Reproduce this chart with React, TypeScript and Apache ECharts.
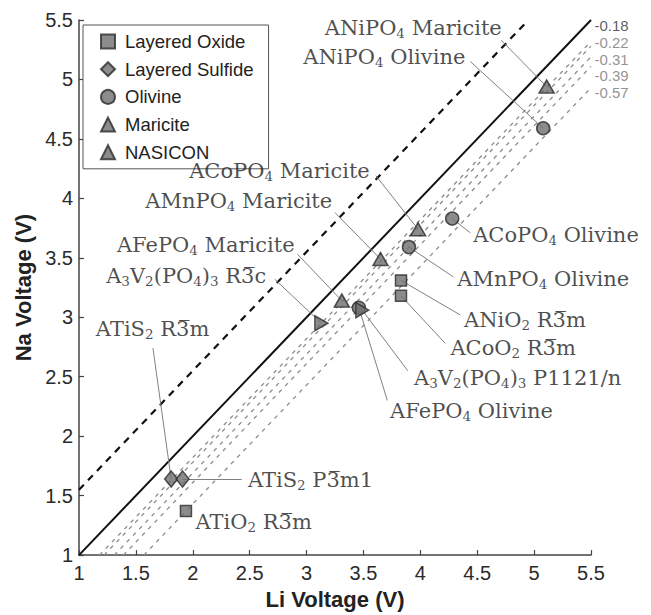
import React, { useEffect, useRef } from 'react';
import * as echarts from 'echarts';

// ---- data (Li voltage, Na voltage) ----
const layeredOxideNames = ['ANiO2 R-3m', 'ACoO2 R-3m', 'ATiO2 R-3m'];
const layeredOxideLi = [3.83, 3.83, 1.94];
const layeredOxideNa = [3.31, 3.18, 1.37];

const layeredSulfideNames = ['ATiS2 R-3m', 'ATiS2 P-3m1'];
const layeredSulfideLi = [1.81, 1.91];
const layeredSulfideNa = [1.64, 1.64];

const olivineNames = ['ANiPO4 Olivine', 'ACoPO4 Olivine', 'AMnPO4 Olivine', 'AFePO4 Olivine'];
const olivineLi = [5.08, 4.28, 3.9, 3.46];
const olivineNa = [4.59, 3.83, 3.59, 3.08];

const mariciteNames = ['ANiPO4 Maricite', 'ACoPO4 Maricite', 'AMnPO4 Maricite', 'AFePO4 Maricite'];
const mariciteLi = [5.11, 3.98, 3.65, 3.31];
const mariciteNa = [4.94, 3.74, 3.49, 3.14];

const nasiconNames = ['A3V2(PO4)3 R-3c', 'A3V2(PO4)3 P1121/n'];
const nasiconLi = [3.13, 3.49];
const nasiconNa = [2.95, 3.06];

// reference lines: Na = Li + offset
const upperOffset = 0.55;
const grayOffsets = [-0.18, -0.22, -0.31, -0.39, -0.57];
const offsetLabels = ['-0.18', '-0.22', '-0.31', '-0.39', '-0.57'];

const axisMin = 1;
const axisMax = 5.5;
const axisStep = 0.5;

// ---- layout of annotations (positions in data units) ----
const offsetLabelY = [5.45, 5.31, 5.17, 5.03, 4.89];
const offsetLabelColor = ['#333', '#777', '#777', '#777', '#777'];

const BAR3 = '3\u0305';

type Ann = { cls: string; i: number; text: string; at: [number, number]; side: 'left' | 'right'; from: [number, number] | null };
const annotations: Ann[] = [
  { cls: 'Maricite', i: 0, text: 'ANiPO{s|4} Maricite', at: [4.72, 5.43], side: 'left', from: [4.71, 5.33] },
  { cls: 'Olivine', i: 0, text: 'ANiPO{s|4} Olivine', at: [4.4, 5.19], side: 'left', from: [4.44, 5.15] },
  { cls: 'Maricite', i: 1, text: 'ACoPO{s|4} Maricite', at: [3.56, 4.23], side: 'left', from: [3.61, 4.19] },
  { cls: 'Maricite', i: 2, text: 'AMnPO{s|4} Maricite', at: [3.23, 3.98], side: 'left', from: [3.25, 3.88] },
  { cls: 'Maricite', i: 3, text: 'AFePO{s|4} Maricite', at: [2.9, 3.61], side: 'left', from: [2.92, 3.53] },
  { cls: 'NASICON', i: 0, text: `A{s|3}V{s|2}(PO{s|4}){s|3} R${BAR3}c`, at: [2.65, 3.35], side: 'left', from: [2.72, 3.32] },
  { cls: 'Layered Sulfide', i: 0, text: `ATiS{s|2} R${BAR3}m`, at: [2.15, 2.9], side: 'left', from: [1.65, 2.74] },
  { cls: 'Olivine', i: 1, text: 'ACoPO{s|4} Olivine', at: [4.46, 3.69], side: 'right', from: [4.44, 3.71] },
  { cls: 'Olivine', i: 2, text: 'AMnPO{s|4} Olivine', at: [4.32, 3.32], side: 'right', from: [4.29, 3.34] },
  { cls: 'Layered Oxide', i: 0, text: `ANiO{s|2} R${BAR3}m`, at: [4.38, 2.98], side: 'right', from: [4.35, 3.02] },
  { cls: 'Layered Oxide', i: 1, text: `ACoO{s|2} R${BAR3}m`, at: [4.26, 2.74], side: 'right', from: [4.22, 2.78] },
  { cls: 'NASICON', i: 1, text: 'A{s|3}V{s|2}(PO{s|4}){s|3} P1121/n', at: [3.94, 2.49], side: 'right', from: [3.89, 2.55] },
  { cls: 'Olivine', i: 3, text: 'AFePO{s|4} Olivine', at: [3.73, 2.21], side: 'right', from: [3.71, 2.3] },
  { cls: 'Layered Sulfide', i: 1, text: `ATiS{s|2} P${BAR3}m1`, at: [2.48, 1.63], side: 'right', from: [2.43, 1.64] },
  { cls: 'Layered Oxide', i: 2, text: `ATiO{s|2} R${BAR3}m`, at: [2.02, 1.28], side: 'right', from: null },
];

const classes = [
  { name: 'Layered Oxide', names: layeredOxideNames, li: layeredOxideLi, na: layeredOxideNa, symbol: 'rect', size: 11, rotate: 0 },
  { name: 'Layered Sulfide', names: layeredSulfideNames, li: layeredSulfideLi, na: layeredSulfideNa, symbol: 'diamond', size: [13, 16], rotate: 0 },
  { name: 'Olivine', names: olivineNames, li: olivineLi, na: olivineNa, symbol: 'circle', size: 13, rotate: 0 },
  { name: 'Maricite', names: mariciteNames, li: mariciteLi, na: mariciteNa, symbol: 'triangle', size: [15, 13], rotate: 0 },
  { name: 'NASICON', names: nasiconNames, li: nasiconLi, na: nasiconNa, symbol: 'triangle', size: [15, 13], rotate: -90 },
];

const SANS = 'Liberation Sans, Arial, sans-serif';
const SERIF = 'DejaVu Serif, serif';

export default function App() {
  const ref = useRef<HTMLDivElement>(null);
  useEffect(() => {
    if (!ref.current) return;
    const chart = echarts.init(ref.current, undefined, { renderer: 'svg' });

    const markerStyle = { color: '#6f6f6f', borderColor: '#2a2a2a', borderWidth: 1.5 };

    const pointSeries = classes.map((c) => ({
      name: c.name,
      type: 'scatter',
      symbol: c.symbol,
      symbolSize: c.size,
      symbolRotate: c.rotate,
      itemStyle: markerStyle,
      z: 5,
      data: c.li.map((x, k) => ({ name: c.names[k], value: [x, c.na[k]] })),
    }));

    const findPoint = (cls: string, i: number): [number, number] => {
      const c = classes.find((q) => q.name === cls)!;
      return [c.li[i], c.na[i]];
    };

    const leaderLines = {
      type: 'lines',
      coordinateSystem: 'cartesian2d',
      silent: true,
      z: 3,
      lineStyle: { color: '#808080', width: 1, opacity: 1 },
      data: annotations
        .filter((a) => a.from)
        .map((a) => ({ coords: [a.from as [number, number], findPoint(a.cls, a.i)] })),
    };

    const annotationLabels = {
      type: 'scatter',
      silent: true,
      symbolSize: 1,
      itemStyle: { color: 'rgba(0,0,0,0)' },
      z: 6,
      data: annotations.map((a) => ({
        value: a.at,
        label: {
          show: true,
          position: a.side,
          distance: 0,
          formatter: a.text,
          fontFamily: SERIF,
          fontSize: 21,
          lineHeight: 24,
          color: '#1e1e1e',
          rich: {
            s: { fontFamily: SERIF, fontSize: 13.5, lineHeight: 14, verticalAlign: 'bottom', color: '#1e1e1e' },
          },
        },
      })),
    };

    const refLine = (pts: number[][], style: any, z = 2) => ({
      type: 'line',
      silent: true,
      symbol: 'none',
      z,
      lineStyle: style,
      data: pts,
    });

    const solid = refLine([[axisMin, axisMin], [axisMax, axisMax]], { color: '#111', width: 2 });
    const upper = refLine(
      [[axisMin, axisMin + upperOffset], [axisMax - upperOffset, axisMax]],
      { color: '#111', width: 2.2, type: [7, 6] }
    );
    const grays = grayOffsets.map((d) =>
      refLine([[axisMin - d, axisMin], [axisMax, axisMax + d]], { color: '#8c8c8c', width: 1.3, type: [4, 5] }, 1)
    );

    const offsetText = {
      type: 'scatter',
      silent: true,
      symbolSize: 1,
      itemStyle: { color: 'rgba(0,0,0,0)' },
      data: offsetLabels.map((t, k) => ({
        value: [axisMax, offsetLabelY[k]],
        label: {
          show: true,
          position: 'right',
          distance: 3,
          formatter: t,
          fontFamily: SANS,
          fontSize: 15,
          lineHeight: 14,
          color: offsetLabelColor[k],
        },
      })),
    };

    const axisCommon = {
      type: 'value',
      min: axisMin,
      max: axisMax,
      interval: axisStep,
      nameLocation: 'middle',
      nameTextStyle: { fontFamily: SANS, fontSize: 22, fontWeight: 'bold', color: '#222' },
      axisLine: { show: true, lineStyle: { color: '#444', width: 1.5 } },
      axisTick: { show: true, inside: true, length: 5, lineStyle: { color: '#444', width: 1.2 } },
      axisLabel: { fontFamily: SANS, fontSize: 20, color: '#2a2a2a' },
      splitLine: { show: false },
    };

    chart.setOption({
      animation: false,
      backgroundColor: '#ffffff',
      grid: { left: 79, right: 60, top: 20, bottom: 54, containLabel: false },
      xAxis: { ...axisCommon, name: 'Li Voltage (V)', nameGap: 29, axisLabel: { ...axisCommon.axisLabel, margin: 8 } },
      yAxis: { ...axisCommon, name: 'Na Voltage (V)', nameGap: 43, axisLabel: { ...axisCommon.axisLabel, margin: 6 } },
      legend: {
        data: classes.map((c) => c.name),
        orient: 'vertical',
        left: 83,
        top: 25,
        padding: [7, 15, 7, 17],
        itemWidth: 14,
        itemHeight: 14,
        itemGap: 8.7,
        backgroundColor: '#fff',
        borderColor: '#555',
        borderWidth: 1,
        textStyle: { fontFamily: SANS, fontSize: 18.5, lineHeight: 14, color: '#222', padding: [0, 0, 0, 5] },
        selectedMode: false,
      },
      series: [solid, upper, ...grays, leaderLines, ...pointSeries, annotationLabels, offsetText],
    });

    return () => chart.dispose();
  }, []);

  return (
    <div
      ref={ref}
      style={{ position: 'fixed', left: 0, top: 0, width: 651, height: 615, background: '#fff' }}
    />
  );
}
